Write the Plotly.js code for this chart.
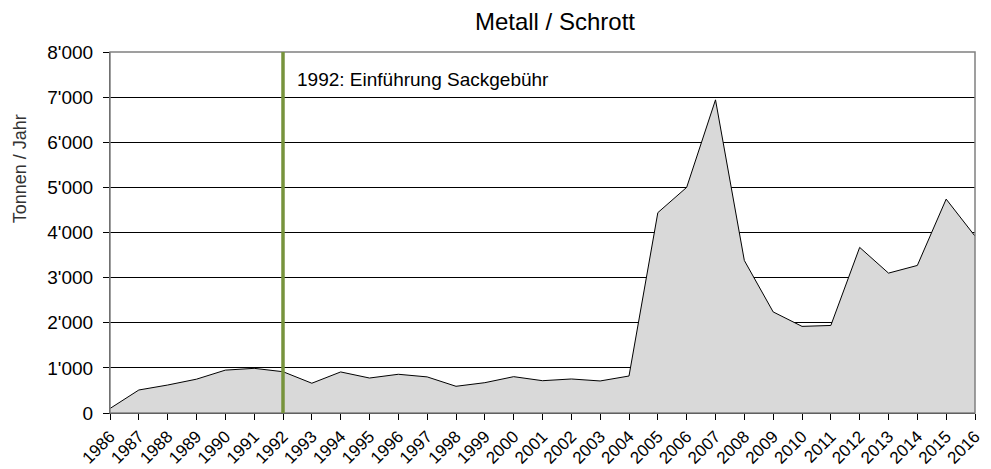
<!DOCTYPE html>
<html>
<head>
<meta charset="utf-8">
<script src="https://cdn.plot.ly/plotly-3.0.1.min.js"></script>
<style>html,body{margin:0;padding:0;background:#fff;}#chart{width:991px;height:469px;}</style>
</head>
<body>
<div id="chart"></div>
<script>
var years = [1986,1987,1988,1989,1990,1991,1992,1993,1994,1995,1996,1997,1998,1999,2000,2001,2002,2003,2004,2005,2006,2007,2008,2009,2010,2011,2012,2013,2014,2015,2016];
var tonnen = [100,510,620,750,950,990,915,660,910,775,858,800,592,672,805,716,754,710,820,4440,5000,6940,3380,2240,1920,1940,3670,3100,3270,4740,3920];
var eventYear = 1992;
var eventLabel = "1992: Einführung Sackgebühr";
var yTitle = "Tonnen / Jahr";
var yTicks = [0,1000,2000,3000,4000,5000,6000,7000,8000];

var font = "Liberation Sans, Arial, sans-serif";
var trace = {
  x: years, y: tonnen, type: "scatter", mode: "lines",
  fill: "tozeroy", fillcolor: "#d9d9d9",
  line: {color: "#000000", width: 1},
  hoverinfo: "x+y"
};
var layout = {
  width: 991, height: 469,
  margin: {l: 110, r: 16, t: 52, b: 56},
  paper_bgcolor: "#ffffff", plot_bgcolor: "#ffffff",
  separators: ".'",
  showlegend: false,
  font: {family: font, color: "#000000", size: 17},
  title: {text: "Metall / Schrott", font: {family: font, size: 24, color: "#000"}, x: 0.56, xanchor: "center", y: 0.955, yanchor: "middle"},
  xaxis: {
    range: [years[0], years[years.length-1]],
    tickvals: years, ticktext: years.map(String),
    tickangle: -45, ticks: "outside", ticklen: 6, tickcolor: "#000",
    showgrid: false, zeroline: false,
    showline: true, linecolor: "#000", linewidth: 1,
    tickfont: {family: font, size: 17, color: "#000"}
  },
  yaxis: {
    range: [0, 8000], tickvals: yTicks, tickformat: ",d",
    ticks: "outside", ticklen: 6, tickcolor: "#000", ticklabelstandoff: 6,
    showgrid: true, gridcolor: "#000", gridwidth: 1,
    zeroline: false, showline: true, linecolor: "#404040", linewidth: 1,
    tickfont: {family: font, size: 19, color: "#000"}
  },
  shapes: [
    {type: "rect", xref: "paper", yref: "paper", x0: 0, x1: 1, y0: 0, y1: 1, line: {color: "#808080", width: 1.5}, layer: "above"},
    {type: "line", xref: "x", yref: "paper", x0: eventYear, x1: eventYear, y0: 0, y1: 1, line: {color: "#77933C", width: 3.5}, layer: "above"}
  ],
  annotations: [
    {xref: "x", yref: "y", x: eventYear, y: 7400, text: eventLabel, showarrow: false,
     xanchor: "left", yanchor: "middle", xshift: 12, font: {family: font, size: 19, color: "#000"}, bgcolor: "#ffffff"},
    {xref: "paper", yref: "paper", x: 0, y: 0.675, xshift: -90, text: yTitle, textangle: -90, showarrow: false,
     xanchor: "center", yanchor: "middle", font: {family: font, size: 18, color: "#333"}}
  ]
};
Plotly.newPlot("chart", [trace], layout, {displayModeBar: false, staticPlot: true});
</script>
</body>
</html>
